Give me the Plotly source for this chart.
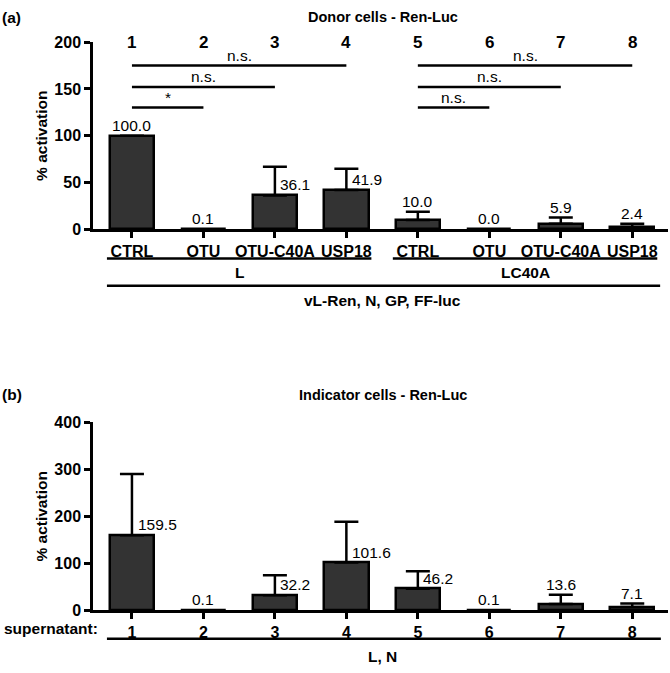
import plotly.graph_objects as go

W, H = 670, 673

# ---------------- data ----------------
positions = [1, 2, 3, 4, 5, 6, 7, 8]

donor_values = [100.0, 0.1, 36.1, 41.9, 10.0, 0.0, 5.9, 2.4]
donor_errors = [None, None, 30.6, 22.7, 8.7, 0.0, 6.6, 3.6]
donor_labels = ["100.0", "0.1", "36.1", "41.9", "10.0", "0.0", "5.9", "2.4"]
donor_ticks = ["CTRL", "OTU", "OTU-C40A", "USP18", "CTRL", "OTU", "OTU-C40A", "USP18"]
top_numbers = ["1", "2", "3", "4", "5", "6", "7", "8"]

indicator_values = [159.5, 0.1, 32.2, 101.6, 46.2, 0.1, 13.6, 7.1]
indicator_errors = [130.5, None, 42.4, 87.0, 37.0, None, 19.6, 7.4]
indicator_labels = ["159.5", "0.1", "32.2", "101.6", "46.2", "0.1", "13.6", "7.1"]
indicator_ticks = ["1", "2", "3", "4", "5", "6", "7", "8"]

# significance comparisons (from, to, height, text)
sig_from = [1, 1, 1, 5, 5, 5]
sig_to = [4, 3, 2, 8, 7, 6]
sig_height = [175, 152, 130, 175, 152, 130]
sig_text = ["n.s.", "n.s.", "*", "n.s.", "n.s.", "n.s."]

# group brackets for donor panel
groups = [("L", 1, 4), ("LC40A", 5, 8)]

BAR = "#333333"
FONT = "Liberation Sans"


def px(x):
    return x / W


def py(y):
    return 1 - y / H


fig = go.Figure()

ydomA = [py(227), py(35)]
ydomB = [py(618), py(425)]
xdom = [px(93), px(668)]


def clean(errs):
    return [e if e is not None else float("nan") for e in errs]


fig.add_trace(go.Bar(
    x=positions, y=donor_values, width=0.62,
    marker=dict(color=BAR, line=dict(color="black", width=2.5)),
    error_y=dict(type="data", symmetric=False, array=clean(donor_errors),
                 arrayminus=[0] * 8, color="black", thickness=2.5, width=12),
    xaxis="x", yaxis="y", showlegend=False,
))
fig.add_trace(go.Bar(
    x=positions, y=indicator_values, width=0.62,
    marker=dict(color=BAR, line=dict(color="black", width=2.5)),
    error_y=dict(type="data", symmetric=False, array=clean(indicator_errors),
                 arrayminus=[0] * 8, color="black", thickness=2.5, width=12),
    xaxis="x2", yaxis="y2", showlegend=False,
))

axis_common = dict(showline=True, linecolor="black", linewidth=2.5,
                   ticks="outside", ticklen=6, tickwidth=2.5, tickcolor="black",
                   showgrid=False, zeroline=False,
                   tickfont=dict(family=FONT, size=16, color="black", weight="bold"))

fig.update_layout(
    width=W, height=H, margin=dict(l=0, r=0, t=0, b=0),
    plot_bgcolor="white", paper_bgcolor="white", bargap=0,
    xaxis=dict(domain=xdom, range=[0.455, 8.5], anchor="y",
               tickvals=positions, ticktext=donor_ticks, **axis_common),
    yaxis=dict(domain=ydomA, range=[0, 200], anchor="x",
               tickvals=[0, 50, 100, 150, 200],
               title=dict(text="% activation", standoff=3,
                          font=dict(family=FONT, size=15.5, color="black", weight="bold")),
               **axis_common),
    xaxis2=dict(domain=xdom, range=[0.455, 8.5], anchor="y2",
                tickvals=positions, ticktext=indicator_ticks, **axis_common),
    yaxis2=dict(domain=ydomB, range=[0, 400], anchor="x2",
                tickvals=[0, 100, 200, 300, 400],
                title=dict(text="% activation", standoff=3,
                           font=dict(family=FONT, size=15.5, color="black", weight="bold")),
                **axis_common),
)

ann = []
shapes = []


def value_labels(vals, errs, labels, xa, ya, scale):
    for x, v, e, t in zip(positions, vals, errs, labels):
        e = e or 0
        if e * scale > 12:
            ann.append(dict(x=x + 0.05, y=v, xref=xa, yref=ya, text=t,
                            xanchor="left", yanchor="bottom", showarrow=False,
                            font=dict(family=FONT, size=15.5, color="black")))
        else:
            ann.append(dict(x=x, y=v + e, xref=xa, yref=ya, text=t,
                            xanchor="center", yanchor="bottom", showarrow=False,
                            font=dict(family=FONT, size=15.5, color="black")))


value_labels(donor_values, donor_errors, donor_labels, "x", "y", 0.96)
value_labels(indicator_values, indicator_errors, indicator_labels, "x2", "y2", 0.4825)

# top numbers on panel a
for x, t in zip(positions, top_numbers):
    ann.append(dict(x=x, y=py(35), xref="x", yref="paper", text=t,
                    xanchor="center", yanchor="middle", showarrow=False,
                    font=dict(family=FONT, size=17, color="black", weight="bold")))

# significance bars
for a, b, h, t in zip(sig_from, sig_to, sig_height, sig_text):
    shapes.append(dict(type="line", xref="x", yref="y", x0=a, x1=b, y0=h, y1=h,
                       line=dict(color="black", width=2.5)))
    ann.append(dict(x=(a + b) / 2, y=h, xref="x", yref="y", text=t,
                    xanchor="center", yanchor="bottom", showarrow=False, yshift=0,
                    font=dict(family=FONT, size=15.5, color="black")))

# group brackets panel a
for name, a, b in groups:
    shapes.append(dict(type="line", xref="x", yref="paper", x0=a - 0.35, x1=b + 0.35,
                       y0=py(257), y1=py(257), line=dict(color="black", width=2.5)))
    ann.append(dict(x=(a + b) / 2, y=py(271), xref="x", yref="paper", text=name,
                    xanchor="center", yanchor="middle", showarrow=False,
                    font=dict(family=FONT, size=15.5, color="black", weight="bold")))
shapes.append(dict(type="line", xref="x", yref="paper", x0=0.65, x1=8.39,
                   y0=py(285), y1=py(285), line=dict(color="black", width=2.5)))
ann.append(dict(x=4.5, y=py(300), xref="x", yref="paper", text="vL-Ren, N, GP, FF-luc",
                xanchor="center", yanchor="middle", showarrow=False,
                font=dict(family=FONT, size=15.5, color="black", weight="bold")))

# panel b bracket
shapes.append(dict(type="line", xref="x2", yref="paper", x0=0.65, x1=8.4,
                   y0=py(647), y1=py(647), line=dict(color="black", width=2.5)))
ann.append(dict(x=4.5, y=py(665), xref="x2", yref="paper", text="L, N",
                xanchor="center", yanchor="middle", showarrow=False,
                font=dict(family=FONT, size=15.5, color="black", weight="bold")))
ann.append(dict(x=px(100), y=py(637), xref="paper", yref="paper", text="supernatant:",
                xanchor="right", yanchor="middle", showarrow=False,
                font=dict(family=FONT, size=15.5, color="black", weight="bold")))

# titles and panel letters
ann.append(dict(x=px(383), y=py(9), xref="paper", yref="paper", text="Donor cells - Ren-Luc",
                xanchor="center", yanchor="middle", showarrow=False,
                font=dict(family=FONT, size=14.5, color="black", weight="bold")))
ann.append(dict(x=px(383), y=py(397), xref="paper", yref="paper", text="Indicator cells - Ren-Luc",
                xanchor="center", yanchor="middle", showarrow=False,
                font=dict(family=FONT, size=14.5, color="black", weight="bold")))
ann.append(dict(x=px(0), y=py(10), xref="paper", yref="paper", text="(a)",
                xanchor="left", yanchor="middle", showarrow=False,
                font=dict(family=FONT, size=15.5, color="black", weight="bold")))
ann.append(dict(x=px(0), y=py(397), xref="paper", yref="paper", text="(b)",
                xanchor="left", yanchor="middle", showarrow=False,
                font=dict(family=FONT, size=15.5, color="black", weight="bold")))

fig.update_layout(annotations=ann, shapes=shapes)
fig.write_html("out.html", config={"displayModeBar": False},
               post_script="document.body.style.margin='0';document.body.style.overflow='hidden';")
